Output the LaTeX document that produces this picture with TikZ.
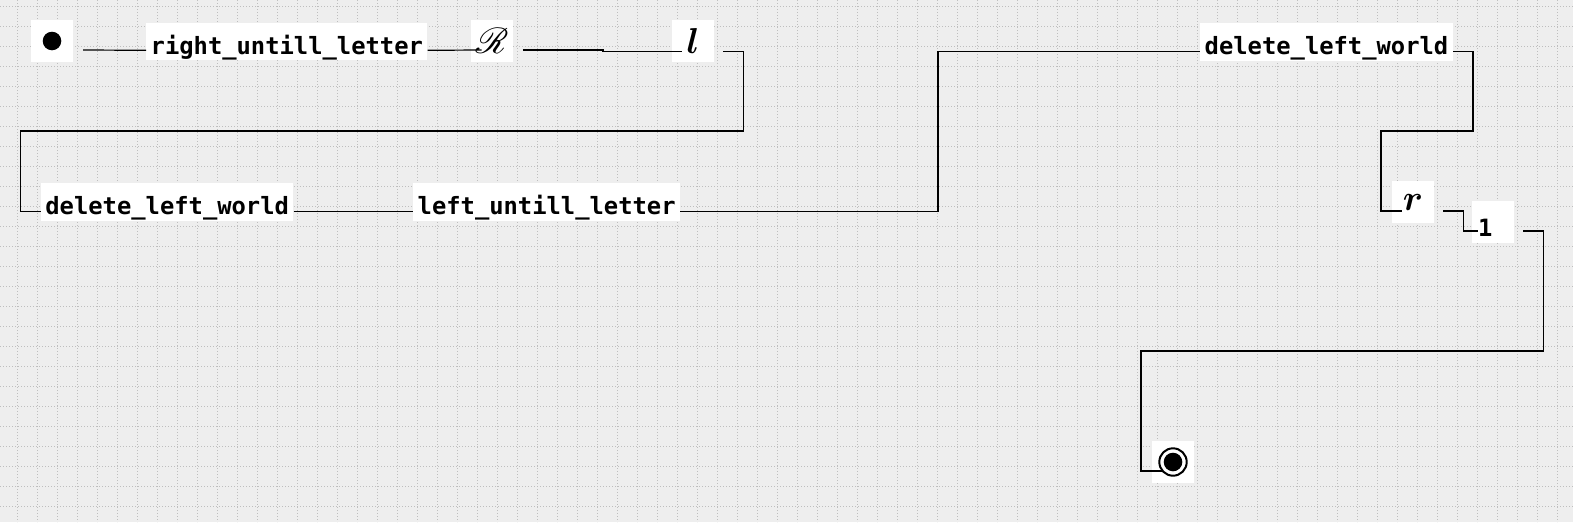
\documentclass[tikz,border=0pt]{standalone}
\usepackage{fontspec}
\usepackage{mathrsfs}
\usepackage{graphicx}
\newfontfamily\codefont{DejaVu Sans Mono}
\usetikzlibrary{calc}
\definecolor{bg}{RGB}{238,238,238}
\definecolor{gridc}{RGB}{190,190,190}
\begin{document}
\begin{tikzpicture}[x=1pt,y=-1pt,
  wire/.style={line width=1.2pt, black},
  lbl/.style={fill=white, inner xsep=4.5pt, inner ysep=0pt, text height=31pt, text depth=6.4pt,
    font=\codefont\bfseries\fontsize{23.8}{28}\selectfont, anchor=base west},
  icon/.style={fill=white, minimum width=42pt, minimum height=42pt, inner sep=0pt,
    font=\fontsize{10}{12}\selectfont},
  gridline/.style={gridc, line width=1pt, dash pattern=on 1pt off 2pt}]
\fill[bg] (0,0) rectangle (1573,522);
\useasboundingbox (0,0) rectangle (1573,522);
\foreach \x in {17,37,...,1557} \draw[gridline] (\x,0) -- (\x,522);
\foreach \y in {6,26,...,506} \draw[gridline] (0,\y) -- (1573,\y);

% nodes
\node[icon] (s) at (52,41) {};
\fill (s.center) circle (9.3);
\node[lbl] (rul) at (146,54) {right\_untill\_letter};
\node[icon] (R) at (492,41) {\scalebox{3.6}{\boldmath$\mathscr{R}$}};
\node[icon] (l) at (693,41) {\scalebox{3.6}{\boldmath$l$}};
\node[lbl] (dlwL) at (40.7,214.3) {delete\_left\_world};
\node[lbl] (lut) at (413,214.3) {left\_untill\_letter};
\node[lbl] (dlwR) at (1200,54.3) {delete\_left\_world};
\node[icon] (r) at (1413,202) {\scalebox{3.6}{\boldmath$r$}};
\node[fill=white, inner xsep=6pt, inner ysep=0pt, text height=35.7pt, text depth=6.3pt,
  anchor=base west, font=\codefont\bfseries\fontsize{23.8}{28}\selectfont] (one) at (1472,236.7) {\makebox[30pt][l]{1}};
\node[icon] (e) at (1173,462) {};
\draw[line width=2pt] (e.center) circle (13.7);
\fill (e.center) circle (9.3);

% connectors
\draw[wire] ($(s.east)+(10,9)$) -- ($(rul.base west)+(0,-3.7)$);
\draw[wire] ($(rul.base east)+(0,-3.7)$) -- ($(R.west)+(10.7,9)$);
\draw[wire] ($(R.east)+(9.7,9)$) -- ++(80,0) -- ++(0,1.7) -- ($(l.west)+(9.7,10.7)$);
\draw[wire] ($(l.east)+(9,10.7)$) -- ++(20.3,0) |- (20.7,131) |- ($(dlwL.base west)+(0,-3)$);
\draw[wire] ($(dlwL.base east)+(0,-3)$) -- ($(lut.base west)+(0,-3)$);
\draw[wire] ($(lut.base east)+(0,-3)$) -| (938,51.3) -- ($(dlwR.base west)+(0,-3)$);
\draw[wire] ($(dlwR.base east)+(0,-3)$) -- ++(20,0) |- (1381,131) |- ($(r.west)+(10,9)$);
\draw[wire] ($(r.east)+(9,9)$) -- ++(20,0) |- ($(one.base west)+(6,-5.7)$);
\draw[wire] ($(one.east)+(9,9)$) -- ++(20,0) |- (1141,351) |- ($(e.west)+(10,9)$);
\end{tikzpicture}
\end{document}
